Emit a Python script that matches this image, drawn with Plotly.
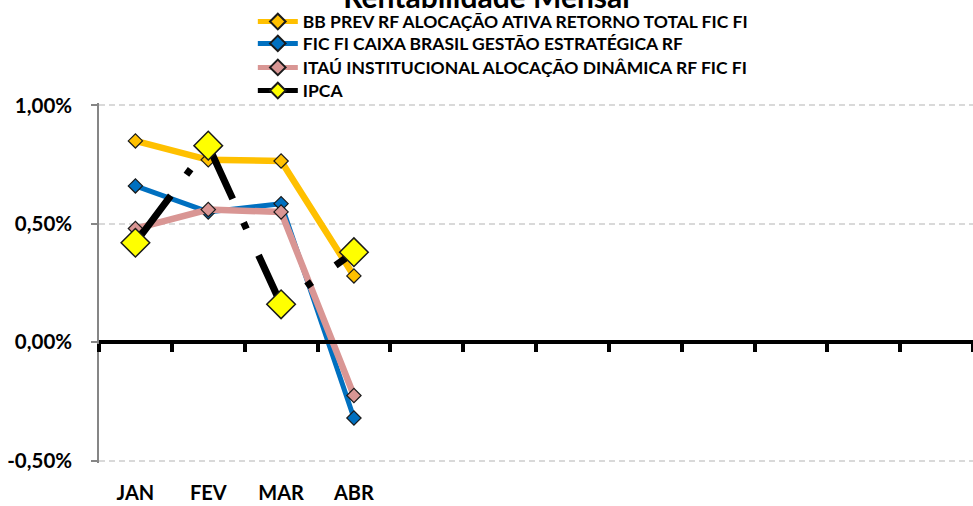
import plotly.graph_objects as go

months = ["JAN", "FEV", "MAR", "ABR", "MAI", "JUN", "JUL", "AGO", "SET", "OUT", "NOV", "DEZ"]
shown_months = ["JAN", "FEV", "MAR", "ABR"]

bb_prev = [0.85, 0.77, 0.765, 0.28]
caixa = [0.66, 0.55, 0.585, -0.32]
itau = [0.48, 0.56, 0.55, -0.225]
ipca = [0.42, 0.83, 0.16, 0.38]

names = [
    "BB PREV RF ALOCAÇÃO ATIVA RETORNO TOTAL FIC FI",
    "FIC FI CAIXA BRASIL GESTÃO ESTRATÉGICA RF",
    "ITAÚ INSTITUCIONAL ALOCAÇÃO DINÂMICA RF FIC FI",
    "IPCA",
]
colors = ["#FFC000", "#0070C0", "#D99694"]
widths = [6.5, 5, 6.5]

y_ticks = [-0.5, 0.0, 0.5, 1.0]
y_tick_labels = ["-0,50%", "0,00%", "0,50%", "1,00%"]
y_range = [-0.51, 1.01]
boundaries = [i - 0.5 for i in range(len(months) + 1)]

FONT = "Lato"
W, H = 973, 506
PLOT_TOP, PLOT_H = 103, 360
legend_rows = [21.7, 43.5, 67.5, 90.7]

fig = go.Figure()
legend_ids = ["legend", "legend2", "legend3", "legend4"]

for vals, col, w, name, lg in zip([bb_prev, caixa, itau], colors, widths, names[:3], legend_ids[:3]):
    fig.add_trace(go.Scatter(
        x=shown_months, y=vals, name=name, mode="lines+markers", legend=lg,
        line=dict(color=col, width=w),
        marker=dict(symbol="diamond", size=11, color=col, line=dict(color="#1a1a1a", width=1.2)),
    ))

fig.add_trace(go.Scatter(
    x=shown_months, y=ipca, name=names[3], mode="lines+markers", legend=legend_ids[3],
    line=dict(color="black", width=7, dash="59px,26px,7px,29px"),
    marker=dict(symbol="diamond", size=22, color="#FFFF00", line=dict(color="#1a1a1a", width=1.5)),
))

# helper trace so the zero-level axis (with boundary ticks) is drawn
fig.add_trace(go.Scatter(
    x=[boundaries[0], boundaries[-1]], y=[0, 0], xaxis="x2", mode="none",
    showlegend=False, hoverinfo="skip",
))

legend_common = dict(
    x=0.176, xanchor="left", yanchor="middle",
    font=dict(size=17.5, family=FONT, color="black", weight="bold"),
    bgcolor="rgba(0,0,0,0)", itemsizing="constant", itemwidth=40,
)
layout_legends = {}
for lg, yc in zip(legend_ids, legend_rows):
    layout_legends[lg] = dict(legend_common, y=1 + (PLOT_TOP - yc) / PLOT_H)

zero_pos = (0 - y_range[0]) / (y_range[1] - y_range[0])

fig.update_layout(
    width=W, height=H,
    margin=dict(l=99, r=0, t=PLOT_TOP, b=H - PLOT_TOP - PLOT_H, autoexpand=False),
    paper_bgcolor="white", plot_bgcolor="white",
    font=dict(family=FONT, color="black", size=16, weight="bold"),
    title=dict(text="Rentabilidade Mensal", x=0.5, xanchor="center",
               xref="container", yref="container", y=1 - 8 / H, yanchor="bottom",
               font=dict(size=30, family=FONT, color="black", weight="bold")),
    showlegend=True,
    xaxis=dict(
        type="category", categoryorder="array", categoryarray=months,
        range=[-0.5, len(months) - 0.5],
        tickmode="array", tickvals=shown_months, ticktext=shown_months,
        ticks="", showline=False, showgrid=False, zeroline=False,
        tickfont=dict(size=20, family=FONT, color="black", weight="bold"),
        ticklabelstandoff=16,
    ),
    xaxis2=dict(
        overlaying="x", anchor="free", position=zero_pos, type="linear",
        range=[-0.5, len(months) - 0.5],
        tickmode="array", tickvals=boundaries, showticklabels=False,
        ticks="outside", ticklen=8, tickwidth=4, tickcolor="black",
        showline=True, linecolor="black", linewidth=4,
        showgrid=False, zeroline=False,
    ),
    yaxis=dict(
        range=y_range, tickmode="array", tickvals=y_ticks, ticktext=y_tick_labels,
        showline=True, linecolor="#868686", linewidth=1.5,
        ticks="outside", ticklen=6, tickcolor="#868686", tickwidth=1.5,
        showgrid=True, gridcolor="#D9D9D9", griddash="6px,4px", gridwidth=1.5,
        zeroline=False,
        tickfont=dict(size=20.5, family=FONT, color="black", weight="bold"),
        ticklabelstandoff=15,
    ),
    **layout_legends,
)

fig.write_html("out.html", config={"displayModeBar": False},
               post_script="document.body.style.margin='0';")
